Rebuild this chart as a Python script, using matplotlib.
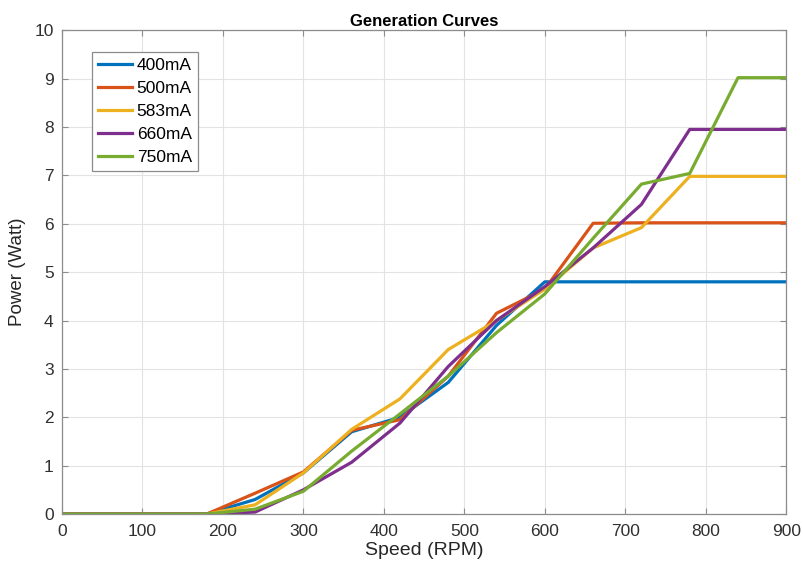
import matplotlib.pyplot as plt

plt.rcParams['font.family'] = ['Liberation Sans', 'DejaVu Sans']

speed = [0, 60, 120, 180, 240, 300, 360, 420, 480, 540, 600, 660, 720, 780, 840, 900]
p400 = [0, 0, 0, 0, 0.3, 0.85, 1.7, 2.0, 2.72, 3.9, 4.8, 4.8, 4.8, 4.8, 4.8, 4.8]
p500 = [0, 0, 0, 0, 0.43, 0.87, 1.73, 1.95, 2.85, 4.15, 4.65, 6.01, 6.02, 6.02, 6.02, 6.02]
p583 = [0, 0, 0, 0, 0.19, 0.85, 1.75, 2.38, 3.4, 4.0, 4.65, 5.5, 5.92, 6.98, 6.98, 6.98]
p660 = [0, 0, 0, 0, 0.04, 0.5, 1.07, 1.88, 3.05, 4.0, 4.7, 5.5, 6.4, 7.95, 7.95, 7.95]
p750 = [0, 0, 0, 0, 0.1, 0.47, 1.3, 2.07, 2.85, 3.75, 4.55, 5.7, 6.82, 7.04, 9.02, 9.02]
labels = ['400mA', '500mA', '583mA', '660mA', '750mA']
colors = ['#0072BD', '#D95319', '#EDB120', '#7E2F8E', '#77AC30']

fig = plt.figure(figsize=(8.04, 5.71), dpi=100)
ax = fig.add_axes([0.077, 0.0998, 0.901, 0.8472])

for ys, lab, c in zip([p400, p500, p583, p660, p750], labels, colors):
    ax.plot(speed, ys, color=c, lw=2.3, label=lab)

ax.set_xlim(0, 900)
ax.set_ylim(0, 10)
ax.set_xticks(range(0, 901, 100))
ax.set_yticks(range(0, 11))
ax.grid(True, color='#e3e3e3', lw=0.8)
ax.set_axisbelow(True)
ax.tick_params(direction='in', top=True, right=True, labelsize=12.5,
               labelcolor='#303030', color='#8c8c8c', length=4)
ax.tick_params(axis='x', pad=7)
ax.tick_params(axis='y', pad=6)
for s in ax.spines.values():
    s.set_color('#8c8c8c')
    s.set_linewidth(0.9)

ax.set_xlabel('Speed (RPM)', fontsize=14, color='#262626', labelpad=2)
ax.set_ylabel('Power (Watt)', fontsize=13.5, color='#262626', labelpad=6)
ax.set_title('Generation Curves', fontsize=12, fontweight='bold', pad=3)

leg = ax.legend(loc='upper left', bbox_to_anchor=(0.041, 0.955), fontsize=12.5,
                handlelength=2.0, handletextpad=0.25, labelspacing=0.45,
                borderpad=0.35, borderaxespad=0, fancybox=False, framealpha=1,
                edgecolor='#8c8c8c')
leg.get_frame().set_linewidth(0.9)

fig.savefig('out.png', dpi=100)
